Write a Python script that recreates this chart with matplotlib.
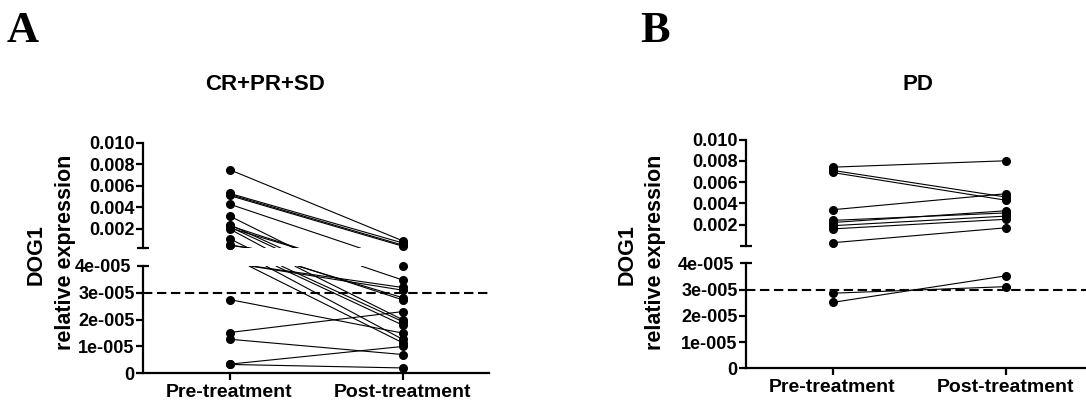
import numpy as np
import matplotlib
matplotlib.use("Agg")
import matplotlib.pyplot as plt
from matplotlib.ticker import FixedLocator, FixedFormatter, NullFormatter

plt.rcParams['font.family'] = ['Liberation Sans', 'DejaVu Sans']
plt.rcParams['font.weight'] = 'bold'

# ---------------- data ----------------
groups = ['Pre-treatment', 'Post-treatment']
threshold = 3e-5

upper_ticks = [0.002, 0.004, 0.006, 0.008, 0.010]
upper_labels = ['0.002', '0.004', '0.006', '0.008', '0.010']
lower_ticks = [0.0, 1e-5, 2e-5, 3e-5]
lower_labels = ['0', '1e-005', '2e-005', '3e-005']
lower_top = 4e-5
lower_top_label = '4e-005'
upper_top = 0.010

# Panel A : CR+PR+SD (paired pre / post values)
a_pre = [0.0075, 0.0053, 0.0052, 0.0051, 0.0043, 0.0032, 0.0024, 0.0023,
         0.0022, 0.0021, 0.0020, 0.0011, 0.0005, 0.0005,
         2.75e-5, 1.52e-5, 1.27e-5, 0.34e-5, 0.33e-5, np.nan]
a_post = [0.0009, 0.0007, 0.0005, 0.0004, 3.48e-5, 2.0e-5, 1.93e-5, 2.74e-5,
          1.8e-5, 2.82e-5, 1.27e-5, 1.14e-5, 3.2e-5, 3.1e-5,
          1.5e-5, 2.3e-5, 0.7e-5, 1.0e-5, 0.2e-5, 4.0e-5]
a_upper_min = 0.0002

# Panel B : PD
b_pre = [0.0074, 0.0071, 0.0069, 0.0034, 0.0024, 0.0022, 0.0019, 0.0016,
         0.0003, 2.86e-5, 2.51e-5]
b_post = [0.0080, 0.0046, 0.0043, 0.0049, 0.0031, 0.0033, 0.0028, 0.0025,
          0.0017, 3.11e-5, 3.52e-5]
b_upper_min = 4e-5

# ---------------- layout ----------------
W, H = 1086, 400
fig = plt.figure(figsize=(W / 100, H / 100), dpi=100)


def rect(left, right, top, bottom):
    return [left / W, 1 - bottom / H, (right - left) / W, (bottom - top) / H]


def draw_panel(left, right, up_top, up_bot, lo_top, lo_bot, pre, post, up_min):
    ax_up = fig.add_axes(rect(left, right, up_top, up_bot))
    ax_lo = fig.add_axes(rect(left, right, lo_top, lo_bot))
    h_up = up_bot - up_top
    h_lo = lo_bot - lo_top
    for ax in (ax_up, ax_lo):
        ax.set_xlim(0.5, 2.5)
        ax.patch.set_alpha(0)
        for s in ('top', 'right'):
            ax.spines[s].set_visible(False)
        ax.spines['left'].set_linewidth(1.6)
    ax_up.spines['bottom'].set_visible(False)
    ax_lo.spines['bottom'].set_linewidth(1.6)
    ax_up.set_ylim(up_min, upper_top)
    ax_lo.set_ylim(0, lower_top)

    def u(v):
        if v <= lower_top:
            return v / lower_top * h_lo
        return h_lo + (v - up_min) / (upper_top - up_min) * h_up

    lkw = dict(color='black', lw=0.8, solid_capstyle='butt')
    mkw = dict(marker='o', ms=5.5, color='black', ls='none', clip_on=False, zorder=5)
    for p, q in zip(pre, post):
        if np.isnan(p):
            pass
        elif p >= up_min and q >= up_min:
            ax_up.plot([1, 2], [p, q], **lkw)
        elif p <= lower_top and q <= lower_top:
            ax_lo.plot([1, 2], [p, q], **lkw)
        else:
            up_, uq = u(p), u(q)
            f = (up_ - h_lo) / (up_ - uq)
            xc = 1 + f
            ax_up.plot([1, xc], [p, up_min], **lkw)
            ax_lo.plot([xc, 2], [lower_top, q], **lkw)
    for xi, vals in ((1, pre), (2, post)):
        vals = np.asarray(vals, dtype=float)
        hi = vals[vals >= up_min]
        lo = vals[vals <= lower_top]
        ax_up.plot(np.full(len(hi), xi), hi, **mkw)
        ax_lo.plot(np.full(len(lo), xi), lo, **mkw)

    ax_lo.axhline(threshold, color='black', lw=1.5, ls=(0, (4.5, 2.2)), zorder=4)

    # ticks
    ax_up.set_xticks([])
    ax_up.yaxis.set_major_locator(FixedLocator(upper_ticks))
    ax_up.yaxis.set_major_formatter(FixedFormatter(upper_labels))
    ax_up.yaxis.set_minor_locator(FixedLocator([up_min]))
    ax_up.yaxis.set_minor_formatter(NullFormatter())
    ax_up.tick_params(axis='y', which='major', direction='out', length=5, width=1.6,
                      pad=1, labelsize=13)
    ax_up.tick_params(axis='y', which='minor', direction='inout', length=9, width=1.6)

    ax_lo.yaxis.set_major_locator(FixedLocator(lower_ticks))
    ax_lo.yaxis.set_major_formatter(FixedFormatter(lower_labels))
    ax_lo.yaxis.set_minor_locator(FixedLocator([lower_top]))
    ax_lo.yaxis.set_minor_formatter(FixedFormatter([lower_top_label]))
    ax_lo.tick_params(axis='y', which='major', direction='out', length=5, width=1.6,
                      pad=1, labelsize=13)
    ax_lo.tick_params(axis='y', which='minor', direction='inout', length=9, width=1.6,
                      pad=4.2, labelsize=13)
    ax_lo.set_xticks([1, 2])
    ax_lo.set_xticklabels(groups, fontsize=14, fontweight='bold')
    ax_lo.tick_params(axis='x', direction='out', length=5, width=1.6, pad=2.5)
    return ax_up, ax_lo


draw_panel(143, 489, 142.7, 248.3, 266, 373.3, a_pre, a_post, a_upper_min)
draw_panel(746, 1092, 139.5, 245.5, 263.3, 368.3, b_pre, b_post, b_upper_min)

# labels
for x0 in (36, 627):
    fig.text(x0 / W, 1 - 255 / H, 'DOG1', rotation=90, ha='center', va='center',
             fontsize=15.5, fontweight='bold')
for x0 in (65, 656):
    fig.text(x0 / W, 1 - 252 / H, 'relative expression', rotation=90, ha='center',
             va='center', fontsize=15.5, fontweight='bold')

fig.text(265 / W, 1 - 85 / H, 'CR+PR+SD', ha='center', va='center', fontsize=16,
         fontweight='bold')
fig.text(918 / W, 1 - 85 / H, 'PD', ha='center', va='center', fontsize=16,
         fontweight='bold')

fig.text(7 / W, 1 - 42 / H, 'A', family=['Liberation Serif', 'DejaVu Serif'],
         fontsize=32, fontweight='bold', ha='left', va='baseline')
fig.text(640 / W, 1 - 42 / H, 'B', family=['Liberation Serif', 'DejaVu Serif'],
         fontsize=32, fontweight='bold', ha='left', va='baseline')

fig.savefig('out.png', dpi=100, facecolor='white')
